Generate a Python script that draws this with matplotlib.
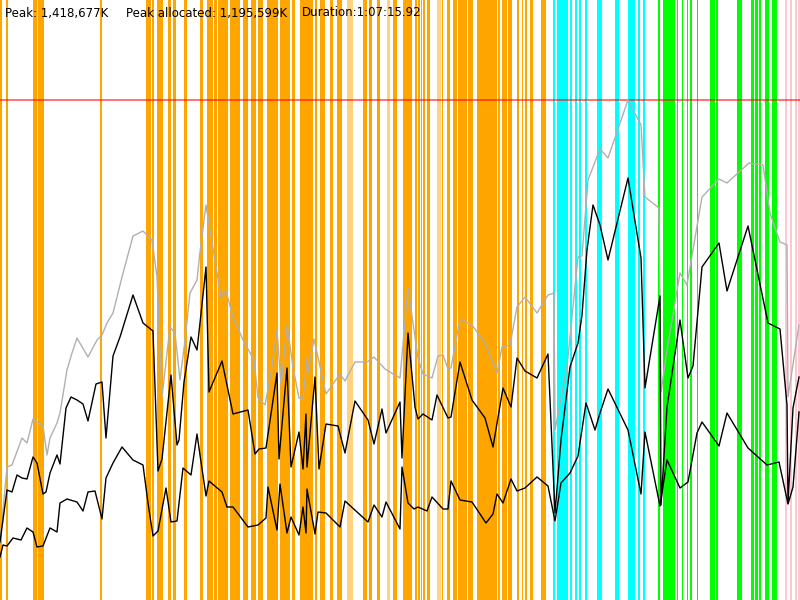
import numpy as np
import matplotlib
matplotlib.use('Agg')
import matplotlib.pyplot as plt

peak_k = 1418677
peak_alloc_k = 1195599
duration = '1:07:15.92'

# memory traces, height units (peak == 500)
x_total = [0, 7, 12, 22, 27, 33, 43, 47, 50, 57, 60, 67, 72, 77, 88, 97, 102, 107, 113, 122, 133, 143, 152, 157, 162,
           170, 175, 180, 185, 190, 197, 200, 206, 210, 221, 226, 233, 243, 254, 258, 265, 271, 277, 281, 287, 293,
           299, 303, 307, 308, 314, 326, 340, 345, 355, 367, 374, 385, 400, 408, 418, 423, 432, 438, 443, 448, 451,
           460, 472, 485, 497, 502, 510, 517, 525, 537, 548, 554, 555, 567, 573, 578, 582, 588, 600, 608, 628, 641,
           645, 659, 661, 667, 680, 687, 702, 719, 727, 749, 763, 770, 780, 787, 788, 799]
total = [58, 133, 135, 162, 157, 181, 174, 145, 162, 177, 187, 230, 247, 262, 243, 260, 265, 277, 287, 323, 364, 369,
         360, 323, 203, 273, 267, 220, 260, 307, 320, 348, 395, 370, 303, 309, 283, 260, 240, 202, 195, 227, 270, 215,
         274, 233, 202, 201, 242, 227, 261, 206, 226, 219, 238, 238, 243, 231, 222, 312, 242, 226, 222, 244, 245, 231,
         232, 281, 275, 257, 227, 253, 255, 293, 303, 287, 305, 307, 170, 233, 293, 343, 344, 420, 451, 442, 500, 475,
         403, 392, 208, 250, 327, 315, 403, 421, 417, 437, 435, 387, 358, 355, 203, 275]

x_alloc = [0, 7, 12, 17, 22, 27, 33, 37, 43, 46, 50, 57, 60, 66, 71, 77, 83, 88, 96, 102, 106, 113, 120, 133, 143, 153,
           158, 162, 171, 177, 179, 184, 191, 197, 200, 206, 209, 222, 233, 248, 255, 259, 266, 277, 279, 287, 291, 299,
           303, 306, 307, 315, 319, 326, 338, 345, 355, 368, 374, 382, 386, 400, 402, 408, 415, 418, 423, 432, 437, 448,
           451, 460, 472, 485, 493, 503, 511, 517, 525, 537, 548, 555, 561, 570, 578, 582, 587, 593, 600, 608, 628, 641,
           645, 660, 661, 667, 680, 688, 693, 702, 719, 727, 748, 768, 780, 787, 788, 793, 799]
alloc = [58, 110, 108, 125, 122, 121, 143, 137, 106, 108, 127, 145, 136, 192, 203, 200, 196, 179, 216, 218, 162, 244,
         263, 305, 277, 269, 129, 141, 225, 155, 160, 218, 263, 250, 277, 333, 208, 239, 186, 190, 146, 151, 152, 227,
         141, 232, 133, 168, 131, 186, 133, 223, 131, 176, 174, 147, 199, 180, 156, 191, 167, 198, 142, 267, 193, 181,
         186, 180, 205, 182, 183, 238, 200, 182, 153, 212, 193, 242, 229, 222, 246, 87, 160, 233, 257, 285, 350, 395,
         375, 340, 422, 342, 212, 304, 95, 193, 280, 222, 234, 333, 357, 309, 374, 277, 271, 195, 97, 192, 223]

x_live = [0, 3, 7, 13, 21, 27, 33, 37, 43, 50, 57, 60, 67, 77, 83, 88, 95, 102, 106, 113, 122, 133, 143, 148, 153, 158,
          166, 171, 177, 183, 191, 197, 200, 206, 209, 222, 227, 233, 248, 258, 266, 268, 277, 280, 287, 291, 299, 303,
          306, 307, 315, 318, 326, 340, 345, 368, 374, 382, 386, 400, 402, 408, 414, 418, 427, 432, 443, 448, 451, 460,
          472, 486, 493, 497, 503, 511, 517, 525, 537, 548, 555, 561, 570, 578, 586, 595, 600, 608, 628, 641, 645, 660,
          667, 680, 688, 697, 702, 719, 727, 748, 767, 779, 788, 793, 799]
live = [43, 55, 54, 62, 60, 72, 68, 53, 54, 72, 68, 97, 101, 98, 89, 108, 109, 81, 122, 137, 153, 140, 135, 97, 64, 69,
        112, 78, 79, 132, 125, 166, 145, 104, 119, 108, 93, 93, 73, 75, 82, 113, 70, 116, 67, 83, 65, 93, 67, 111, 66,
        88, 87, 73, 99, 78, 95, 83, 98, 71, 133, 97, 91, 93, 89, 103, 91, 91, 119, 100, 98, 77, 86, 106, 97, 121, 109,
        112, 123, 114, 79, 117, 127, 144, 197, 170, 187, 211, 170, 106, 168, 94, 140, 112, 118, 167, 178, 154, 187,
        152, 135, 138, 96, 113, 188]

# phase markers (start, end)
orange_spans = [(0, 2), (5.5, 7.5), (33, 37), (38, 44), (100, 101.5), (146, 151), (152, 154), (157, 163), (168, 171),
                (173, 175.5), (184, 187), (200, 203), (207, 213), (214, 217), (218, 228), (230, 240), (243, 248),
                (251, 256), (258, 263), (267, 278), (280, 290), (292, 295), (300, 313), (315, 317), (320, 325),
                (330, 333), (337, 342), (363, 367), (369, 372), (377, 380), (393, 397), (403, 412), (415, 417),
                (418, 420), (421, 422), (423, 424.5), (427, 430), (442, 443), (447, 450), (453, 457), (458, 467),
                (468, 473), (477, 497), (498, 500), (502, 507), (508, 512), (517, 519), (522, 523), (525, 527),
                (530, 533), (541, 546)]
light_orange_spans = [(37, 38), (347, 353), (387, 390), (437, 441)]
cyan_spans = [(553, 555), (557, 568), (570, 572), (575, 577), (579, 581), (585, 587), (597, 602), (615, 619),
              (628, 635), (638, 640), (643, 645)]
green_spans = [(658, 660), (663, 675), (677, 678), (682, 683), (687, 688), (690, 692), (697, 698), (710, 715),
               (716, 718), (737, 742), (751, 754), (755, 758), (759, 761), (765, 769), (772, 777)]
pink_spans = [(785, 787), (790, 792), (795, 797), (798, 800)]

fig = plt.figure(figsize=(8, 6), dpi=100)
ax = fig.add_axes([0, 0, 1, 1])

for spans, col in [(orange_spans, '#FFA500'), (light_orange_spans, '#FFD27F'), (cyan_spans, '#00FFFF'),
                   (green_spans, '#00FF00'), (pink_spans, '#FFC8D0')]:
    ax.broken_barh([(a, b - a) for a, b in spans], (0, 600), facecolors=col, edgecolor='none')

ax.axhline(500, color='red', alpha=0.6, lw=1.3)

ax.plot(x_total, total, color='#B0B0B0', lw=1)
ax.plot(x_alloc, alloc, color='black', lw=1)
ax.plot(x_live, live, color='black', lw=1)

header = ['Peak: {:,}K'.format(peak_k), 'Peak allocated: {:,}K'.format(peak_alloc_k), 'Duration:' + duration]
for xpos, s in zip([5, 126, 302], header):
    ax.text(xpos, 587, s, fontsize=8.5, va='center', ha='left', color='black')

ax.set_xlim(0, 800)
ax.set_ylim(0, 600)
ax.axis('off')
fig.savefig('out.png', dpi=100)
